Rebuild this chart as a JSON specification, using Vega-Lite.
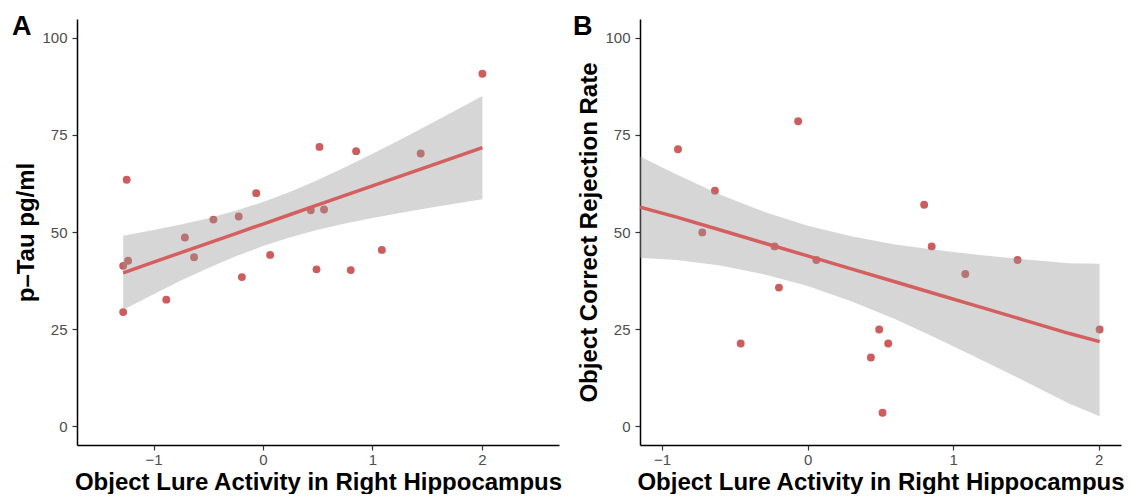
{
  "$schema": "https://vega.github.io/schema/vega-lite/v6.json",
  "background": "white",
  "padding": {"left": 12, "top": 13, "right": 0, "bottom": 0},
  "bounds": "flush",
  "spacing": 81,
  "config": {
    "view": {"stroke": null},
    "font": "Liberation Sans",
    "axis": {
      "grid": false,
      "domainColor": "black",
      "domainWidth": 1.5,
      "tickColor": "#333333",
      "tickWidth": 1.2,
      "tickSize": 5,
      "labelColor": "#4D4D4D",
      "labelFontSize": 15,
      "labelFont": "Liberation Sans",
      "titleFont": "Liberation Sans",
      "titleFontSize": 24,
      "titleFontWeight": "bold",
      "titleColor": "black"
    },
    "axisX": {"labelPadding": 2, "titlePadding": 3, "format": "d"},
    "axisY": {"labelPadding": 5, "titlePadding": 3, "format": "d"},
    "title": {"font": "Liberation Sans", "fontSize": 27, "fontWeight": "bold", "color": "black"}
  },
  "datasets": {
    "ptsA": [
      {"x": -1.246, "y": 63.45}, {"x": -1.278, "y": 41.3}, {"x": -1.233, "y": 42.6},
      {"x": -1.278, "y": 29.4}, {"x": -0.884, "y": 32.6}, {"x": -0.714, "y": 48.6},
      {"x": -0.63, "y": 43.5}, {"x": -0.453, "y": 53.2}, {"x": -0.222, "y": 54.0},
      {"x": -0.193, "y": 38.4}, {"x": -0.062, "y": 60.0}, {"x": 0.065, "y": 44.1},
      {"x": 0.437, "y": 55.6}, {"x": 0.558, "y": 55.8}, {"x": 0.516, "y": 71.9},
      {"x": 0.489, "y": 40.4}, {"x": 0.802, "y": 40.2}, {"x": 0.851, "y": 70.8},
      {"x": 1.086, "y": 45.4}, {"x": 1.441, "y": 70.2}, {"x": 2.005, "y": 90.7}
    ],
    "bandA": [
      {"x": -1.278, "fit": 39.5, "lo": 30.0, "hi": 49.05},
      {"x": -1.0, "fit": 42.24, "lo": 34.0, "hi": 50.5},
      {"x": -0.75, "fit": 44.69, "lo": 37.5, "hi": 51.9},
      {"x": -0.5, "fit": 47.15, "lo": 40.75, "hi": 53.55},
      {"x": -0.25, "fit": 49.6, "lo": 43.75, "hi": 55.45},
      {"x": 0.0, "fit": 52.05, "lo": 46.4, "hi": 57.7},
      {"x": 0.25, "fit": 54.5, "lo": 48.65, "hi": 60.35},
      {"x": 0.5, "fit": 56.96, "lo": 50.56, "hi": 63.36},
      {"x": 0.75, "fit": 59.41, "lo": 52.18, "hi": 66.64},
      {"x": 1.0, "fit": 61.86, "lo": 53.61, "hi": 70.11},
      {"x": 1.25, "fit": 64.31, "lo": 54.92, "hi": 73.7},
      {"x": 1.5, "fit": 66.77, "lo": 56.14, "hi": 77.4},
      {"x": 1.75, "fit": 69.22, "lo": 57.29, "hi": 81.15},
      {"x": 2.005, "fit": 71.72, "lo": 58.43, "hi": 85.01}
    ],
    "ptsB": [
      {"x": -0.891, "y": 71.3}, {"x": -0.065, "y": 78.5}, {"x": -0.637, "y": 60.6},
      {"x": -0.724, "y": 49.9}, {"x": -0.227, "y": 46.3}, {"x": 0.06, "y": 42.8},
      {"x": -0.197, "y": 35.7}, {"x": -0.46, "y": 21.3}, {"x": 0.801, "y": 57.0},
      {"x": 0.853, "y": 46.3}, {"x": 1.084, "y": 39.2}, {"x": 1.443, "y": 42.8},
      {"x": 2.007, "y": 24.9}, {"x": 0.492, "y": 24.9}, {"x": 0.554, "y": 21.3},
      {"x": 0.435, "y": 17.7}, {"x": 0.515, "y": 3.5}
    ],
    "bandB": [
      {"x": -1.152, "fit": 56.4, "lo": 43.4, "hi": 69.4},
      {"x": -0.9, "fit": 53.84, "lo": 42.8, "hi": 64.8},
      {"x": -0.6, "fit": 50.51, "lo": 41.4, "hi": 59.6},
      {"x": -0.3, "fit": 47.18, "lo": 39.1, "hi": 55.2},
      {"x": 0.0, "fit": 43.85, "lo": 36.1, "hi": 51.6},
      {"x": 0.3, "fit": 40.52, "lo": 32.2, "hi": 48.9},
      {"x": 0.6, "fit": 37.19, "lo": 27.6, "hi": 46.8},
      {"x": 0.9, "fit": 33.86, "lo": 22.4, "hi": 45.3},
      {"x": 1.2, "fit": 30.53, "lo": 17.0, "hi": 44.0},
      {"x": 1.5, "fit": 27.2, "lo": 11.5, "hi": 42.9},
      {"x": 1.8, "fit": 23.87, "lo": 5.8, "hi": 41.95},
      {"x": 2.007, "fit": 21.8, "lo": 2.6, "hi": 41.8}
    ]
  },
  "hconcat": [
    {
      "width": 482,
      "height": 426,
      "title": {"text": "A", "anchor": "start", "frame": "group", "dx": -65, "dy": 43, "offset": 0, "baseline": "alphabetic"},
      "layer": [
        {
          "data": {"name": "ptsA"},
          "mark": {"type": "circle", "size": 62, "opacity": 1, "color": "#CD5C5C"},
          "encoding": {
            "x": {"field": "x", "type": "quantitative", "scale": {"domain": [-1.7, 2.705], "nice": false, "zero": false},
                  "axis": {"values": [-1, 0, 1, 2], "title": "Object Lure Activity in Right Hippocampus"}},
            "y": {"field": "y", "type": "quantitative", "scale": {"domain": [-4.8, 104.8], "nice": false, "zero": false},
                  "axis": {"values": [0, 25, 50, 75, 100], "title": "p–Tau pg/ml"}}
          }
        },
        {
          "data": {"name": "bandA"},
          "mark": {"type": "area", "color": "#999999", "opacity": 0.4},
          "encoding": {
            "x": {"field": "x", "type": "quantitative"},
            "y": {"field": "lo", "type": "quantitative"},
            "y2": {"field": "hi"}
          }
        },
        {
          "data": {"name": "bandA"},
          "mark": {"type": "line", "color": "#D35F5F", "strokeWidth": 3.5},
          "encoding": {
            "x": {"field": "x", "type": "quantitative"},
            "y": {"field": "fit", "type": "quantitative"}
          }
        }
      ]
    },
    {
      "width": 481,
      "height": 426,
      "title": {"text": "B", "anchor": "start", "frame": "group", "dx": -67, "dy": 43, "offset": 0, "baseline": "alphabetic"},
      "layer": [
        {
          "data": {"name": "ptsB"},
          "mark": {"type": "circle", "size": 62, "opacity": 1, "color": "#CD5C5C"},
          "encoding": {
            "x": {"field": "x", "type": "quantitative", "scale": {"domain": [-1.152, 2.154], "nice": false, "zero": false},
                  "axis": {"values": [-1, 0, 1, 2], "title": "Object Lure Activity in Right Hippocampus"}},
            "y": {"field": "y", "type": "quantitative", "scale": {"domain": [-4.8, 104.8], "nice": false, "zero": false},
                  "axis": {"values": [0, 25, 50, 75, 100], "title": "Object Correct Rejection Rate"}}
          }
        },
        {
          "data": {"name": "bandB"},
          "mark": {"type": "area", "color": "#999999", "opacity": 0.4},
          "encoding": {
            "x": {"field": "x", "type": "quantitative"},
            "y": {"field": "lo", "type": "quantitative"},
            "y2": {"field": "hi"}
          }
        },
        {
          "data": {"name": "bandB"},
          "mark": {"type": "line", "color": "#D35F5F", "strokeWidth": 3.5},
          "encoding": {
            "x": {"field": "x", "type": "quantitative"},
            "y": {"field": "fit", "type": "quantitative"}
          }
        }
      ]
    }
  ]
}
